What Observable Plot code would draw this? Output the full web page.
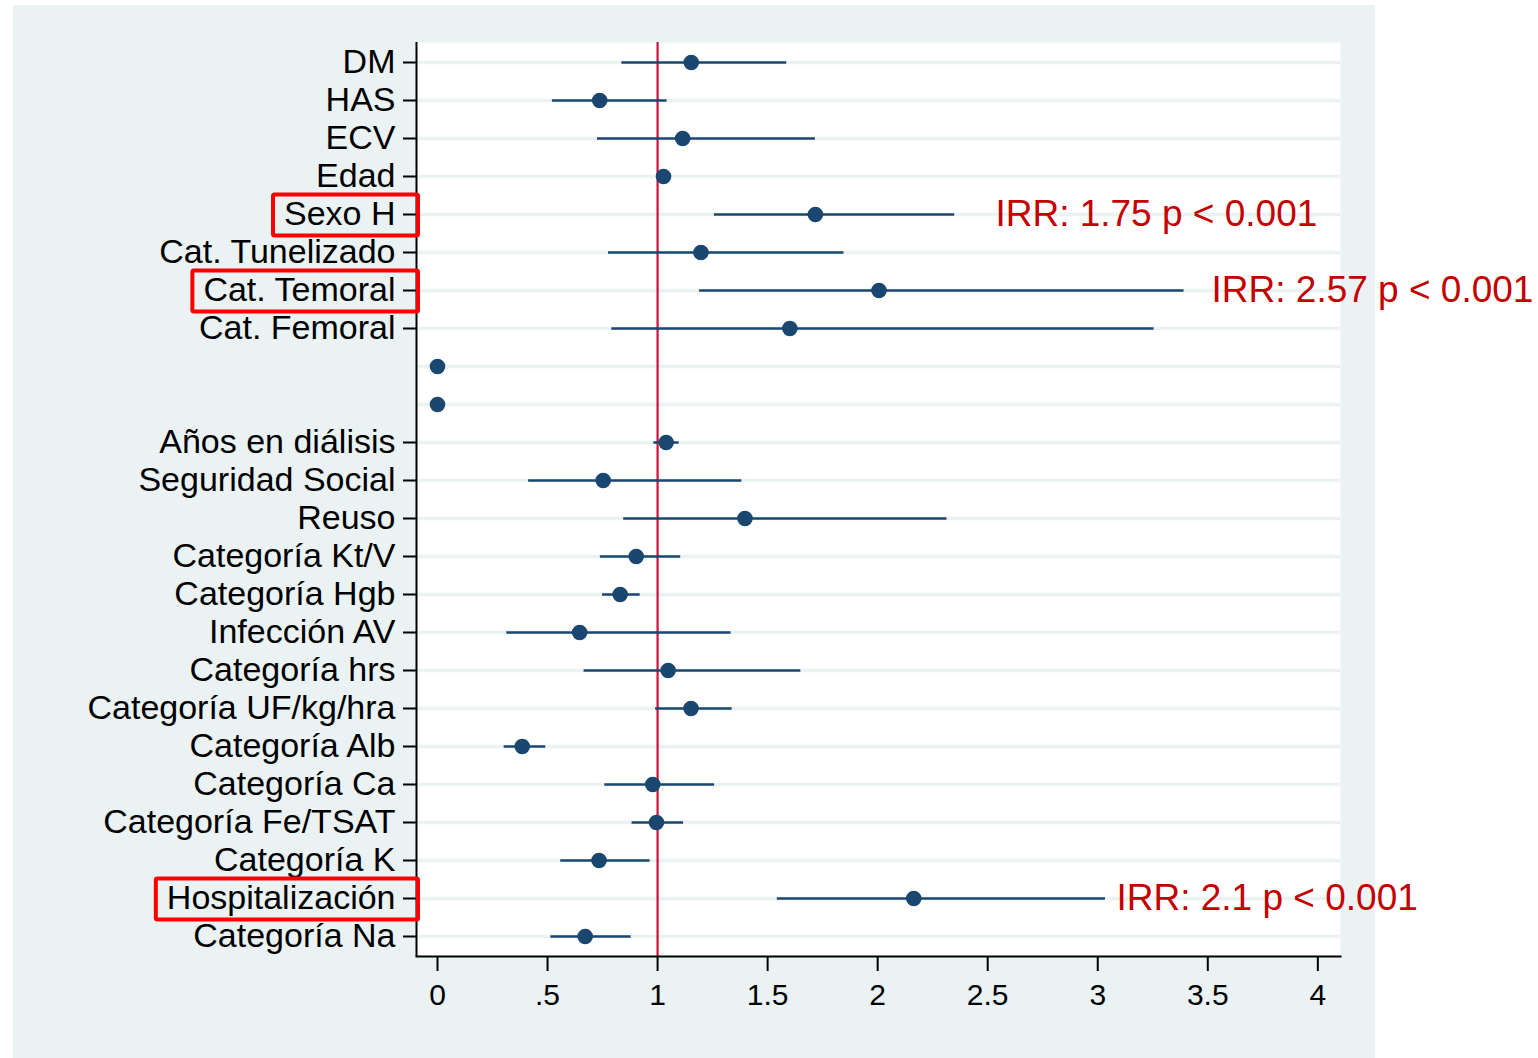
<!DOCTYPE html>
<html>
<head>
<meta charset="utf-8">
<script src="https://cdn.jsdelivr.net/npm/d3@7"></script>
<script src="https://cdn.jsdelivr.net/npm/@observablehq/plot@0.6"></script>
<style>
  html, body { margin: 0; padding: 0; background: #ffffff; }
  body { width: 1538px; height: 1058px; position: relative; overflow: hidden; font-family: "Liberation Sans", Arial, sans-serif; }
  #bg { position: absolute; left: 13px; top: 5px; width: 1362px; height: 1053px; background: #EAF2F3; }
  #chart { position: absolute; left: 13px; top: 5px; }
</style>
</head>
<body>
<div id="bg"></div>
<div id="chart"></div>
<script>
// Row labels (top to bottom); two unlabeled rows
const labels = ["DM","HAS","ECV","Edad","Sexo H","Cat. Tunelizado","Cat. Temoral","Cat. Femoral"," ","  ",
  "Años en diálisis","Seguridad Social","Reuso","Categoría Kt/V","Categoría Hgb","Infección AV","Categoría hrs",
  "Categoría UF/kg/hra","Categoría Alb","Categoría Ca","Categoría Fe/TSAT","Categoría K","Hospitalización","Categoría Na"];
// Point estimates (IRR)
const estimates = [1.153,0.737,1.114,1.027,1.717,1.197,2.006,1.601,0,0,
  1.039,0.753,1.397,0.903,0.830,0.646,1.048,1.152,0.385,0.978,0.995,0.734,2.164,0.671];
// Lower CI
const lower = [0.838,0.522,0.727,1.012,1.258,0.777,1.191,0.792,0,0,
  0.983,0.414,0.846,0.740,0.750,0.315,0.666,0.991,0.303,0.760,0.884,0.560,1.544,0.515];
// Upper CI
const upper = [1.587,1.043,1.717,1.042,2.350,1.847,3.392,3.256,0,0,
  1.098,1.383,2.315,1.105,0.921,1.334,1.651,1.339,0.492,1.259,1.118,0.966,3.035,0.880];
// Highlighted rows and their annotations
const highlighted = ["Sexo H","Cat. Temoral","Hospitalización"];
const annoRows = ["Sexo H","Cat. Temoral","Hospitalización"];
const annoText = ["IRR: 1.75 p < 0.001","IRR: 2.57 p < 0.001","IRR: 2.1 p < 0.001"];
const annoX = [2.535,3.517,3.085];
const xTicks = [0,0.5,1,1.5,2,2.5,3,3.5,4];
const xDomain = [-0.0954, 4.103];

const data = labels.map((l,i) => ({label:l, est:estimates[i], lo:lower[i], hi:upper[i]}));
const ciRows = data.filter(d => d.label.trim() && d.hi > d.lo);
const annos = annoRows.map((r,i) => ({label:r, text:annoText[i], x:annoX[i]}));

const navy = "#1A476F";
const marginLeft = 403;

const chart = Plot.plot({
  width: 1525,
  height: 1053,
  marginLeft,
  marginRight: 198,
  marginTop: 37,
  marginBottom: 102,
  style: {fontFamily: "'Liberation Sans', Arial, sans-serif", color: "black", background: "transparent", overflow: "visible", maxWidth: "none"},
  x: {domain: xDomain},
  y: {type: "point", domain: labels, padding: 0.5},
  marks: [
    Plot.frame({fill: "white", stroke: "none"}),
    Plot.gridY(labels, {stroke: "#EAF2F3", strokeOpacity: 1, strokeWidth: 3.5}),
    Plot.ruleX([1], {stroke: "#D0103A", strokeWidth: 2.2}),
    Plot.ruleY(ciRows, {y: "label", x1: "lo", x2: "hi", stroke: navy, strokeWidth: 2.5}),
    Plot.dot(data, {x: "est", y: "label", r: 7.8, fill: navy, stroke: "none"}),
    Plot.text(annos, {x: "x", y: "label", text: "text", textAnchor: "start", fill: "#C40000", fontSize: 37}),
    Plot.ruleX([xDomain[0]], {stroke: "black", strokeWidth: 2}),
    Plot.frame({anchor: "bottom", stroke: "black", strokeWidth: 2}),
    Plot.axisY({ticks: labels.filter(d => d.trim()), tickSize: 13, tickPadding: 8, fontSize: 34, stroke: "black", strokeWidth: 2, label: null}),
    Plot.axisX({ticks: xTicks, tickSize: 15, tickPadding: 12, fontSize: 30, stroke: "black", strokeWidth: 2, label: null,
      tickFormat: d => d === 0 ? "0" : (d < 1 ? String(d).replace(/^0/, "") : String(d))})
  ]
});
document.getElementById("chart").appendChild(chart);

// red boxes around highlighted axis labels
const svgRect = chart.getBoundingClientRect();
const ns = "http://www.w3.org/2000/svg";
chart.querySelectorAll("text").forEach(t => {
  const s = t.textContent;
  if (highlighted.includes(s) && t.closest('[aria-label="y-axis tick label"]')) {
    const b = t.getBoundingClientRect();
    const x0 = b.left - svgRect.left - 11;
    const y0 = b.top - svgRect.top;
    const r = document.createElementNS(ns, "rect");
    r.setAttribute("x", x0);
    r.setAttribute("y", y0);
    r.setAttribute("width", marginLeft + 2 - x0);
    r.setAttribute("height", b.height + 3);
    r.setAttribute("fill", "none");
    r.setAttribute("stroke", "#FF0000");
    r.setAttribute("stroke-width", 4);
    r.setAttribute("rx", 1.5);
    chart.appendChild(r);
  }
});
</script>
</body>
</html>
